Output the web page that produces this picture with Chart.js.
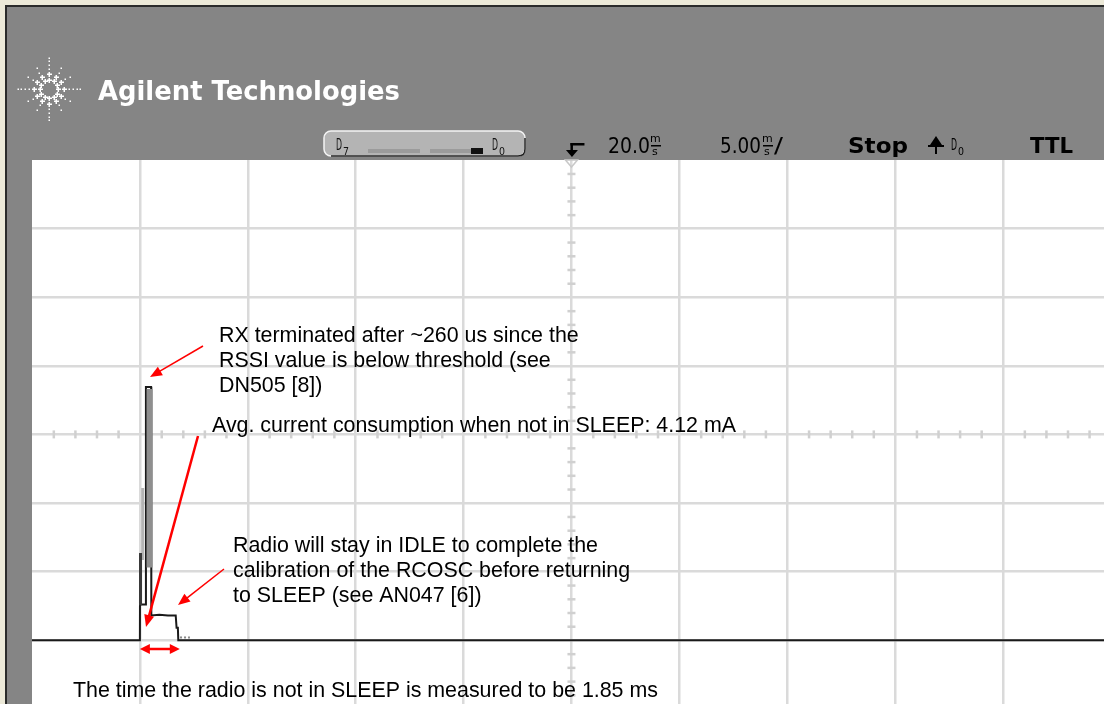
<!DOCTYPE html>
<html>
<head>
<meta charset="utf-8">
<script src="https://cdn.jsdelivr.net/npm/chart.js@4.4.1/dist/chart.umd.min.js"></script>
<style>
  html, body { margin: 0; padding: 0; background: #858585; overflow: hidden; }
  #wrap { width: 1104px; height: 704px; }
</style>
</head>
<body>
<div id="wrap"><canvas id="scope" width="1104" height="704"></canvas></div>
<script>
// time axis in ms (5.00 ms/div, 20.0 ms at centre), level in divisions above the trace baseline
const divTimes = [0, 5, 10, 15, 20, 25, 30, 35, 40];
const divLevels = [0, 1, 2, 3, 4, 5, 6];

// main trace
const traceTime  = [-5, 0.00, 0.01, 0.04, 0.27, 0.28, 0.52, 0.53, 0.90, 1.30, 1.66, 1.70, 1.76, 1.78, 44.7];
const traceLevel = [ 0, 0.00, 1.25, 0.52, 0.52, 3.69, 3.69, 0.36, 0.37, 0.36, 0.36, 0.18, 0.18, 0.00, 0];

// persistence / envelope bits of the scope display
const spikeBarTime = [0.45, 0.45];
const spikeBarLevel = [3.66, 1.06];
const riseBandTime = [0.03, 0.03];
const riseBandLevel = [1.27, 0.51];
const riseGhostTime = [0.13, 0.13];
const riseGhostLevel = [2.22, 1.17];
const tailTime = [1.86, 2.32];
const tailLevel = [0.04, 0.04];

// measured "not in SLEEP" window, ms
const awakeWindow = [0, 1.85];

const notes = [
    { lines: ['RX terminated after ~260 us since the', 'RSSI value is below threshold (see', 'DN505 [8])'], x: 219, y: 342 },
    { lines: ['Avg. current consumption when not in SLEEP: 4.12 mA'], x: 212, y: 432 },
    { lines: ['Radio will stay in IDLE to complete the', 'calibration of the RCOSC before returning', 'to SLEEP (see AN047 [6])'], x: 233, y: 552 },
    { lines: ['The time the radio is not in SLEEP is measured to be 1.85 ms'], x: 73, y: 697 }
];
const arrows = [
    { from: [203, 346], to: [150, 377], w: 1.5 },
    { from: [198, 436], to: [146, 627], w: 2.5 },
    { from: [224, 569], to: [178, 605], w: 1.5 }
];

function pts(xs, ys) {
    return xs.map((x, i) => ({ x: x, y: ys[i] }));
}

function seg(xs, ys, color, width, order) {
    return {
        data: pts(xs, ys),
        borderColor: color,
        borderWidth: width,
        pointRadius: 0,
        tension: 0,
        borderCapStyle: 'butt',
        order: order
    };
}

function fitText(ctx, text, x, y, w, font) {
    ctx.save();
    ctx.font = font;
    let m = ctx.measureText(text).width;
    ctx.translate(x, y);
    ctx.scale(w / m, 1);
    ctx.fillText(text, 0, 0);
    ctx.restore();
}

function arrowHead(ctx, x1, y1, x2, y2, len, half) {
    let a = Math.atan2(y2 - y1, x2 - x1);
    ctx.beginPath();
    ctx.moveTo(x2, y2);
    ctx.lineTo(x2 - len * Math.cos(a) + half * Math.sin(a), y2 - len * Math.sin(a) - half * Math.cos(a));
    ctx.lineTo(x2 - len * Math.cos(a) - half * Math.sin(a), y2 - len * Math.sin(a) + half * Math.cos(a));
    ctx.closePath();
    ctx.fill();
}

function arrowLine(ctx, x1, y1, x2, y2, w) {
    let a = Math.atan2(y2 - y1, x2 - x1);
    ctx.lineWidth = w;
    ctx.beginPath();
    ctx.moveTo(x1, y1);
    ctx.lineTo(x2 - 10 * Math.cos(a), y2 - 10 * Math.sin(a));
    ctx.stroke();
    arrowHead(ctx, x1, y1, x2, y2, 12, 5);
}

function stackedUnit(ctx, x) {
    ctx.save();
    ctx.fillStyle = '#000';
    ctx.font = '11px "DejaVu Sans"';
    ctx.fillText('m', x, 142);
    ctx.fillRect(x + 1, 145, 10, 1.5);
    ctx.fillText('s', x + 2, 155);
    ctx.restore();
}

function drawLogo(ctx, cx, cy) {
    ctx.save();
    ctx.fillStyle = '#fff';
    for (let k = 0; k < 12; k++) {
        let a = k * Math.PI / 6;
        let long = (k % 3 == 0);
        let radii = long ? [9, 15, 20, 24, 28, 31] : [9, 14, 19, 24];
        radii.forEach((r, i) => {
            let px = Math.round(cx + r * Math.cos(a)), py = Math.round(cy + r * Math.sin(a));
            if (i < 2) {
                ctx.fillRect(px - 2, py - 0.5, 5, 1.5);
                ctx.fillRect(px - 0.5, py - 2, 1.5, 5);
            } else {
                ctx.fillRect(px - 0.5, py - 0.5, 1.5, 1.5);
            }
        });
    }
    ctx.restore();
}

const scopeFrame = {
    id: 'scopeFrame',
    beforeDraw(chart) {
        const ctx = chart.ctx, a = chart.chartArea;
        ctx.save();
        ctx.fillStyle = '#858585';
        ctx.fillRect(0, 0, chart.width, chart.height);
        ctx.fillStyle = '#ece9d8';
        ctx.fillRect(0, 0, chart.width, 5);
        ctx.fillRect(0, 0, 5, chart.height);
        ctx.fillStyle = '#2a2a2a';
        ctx.fillRect(5, 5, chart.width, 2);
        ctx.fillRect(5, 5, 2, chart.height);
        ctx.fillStyle = '#ffffff';
        ctx.fillRect(a.left, a.top, a.right - a.left, a.bottom - a.top);

        // brand
        drawLogo(ctx, 49, 89);
        ctx.fillStyle = '#ffffff';
        fitText(ctx, 'Agilent Technologies', 98, 100, 302, 'bold 26px "DejaVu Sans"');

        // digital channel bar
        ctx.beginPath();
        ctx.roundRect(324, 131, 201, 25, 7);
        ctx.fillStyle = '#b4b4b4';
        ctx.fill();
        ctx.lineWidth = 1.5;
        ctx.strokeStyle = '#f4f4f4';
        ctx.stroke();
        ctx.strokeStyle = '#222';
        ctx.beginPath();
        ctx.moveTo(331, 156);
        ctx.lineTo(518, 156);
        ctx.quadraticCurveTo(525, 156, 525, 149);
        ctx.lineTo(525, 138);
        ctx.stroke();
        ctx.fillStyle = '#9b9b9b';
        ctx.fillRect(368, 149, 52, 4);
        ctx.fillRect(430, 149, 41, 4);
        ctx.fillStyle = '#111';
        ctx.fillRect(471, 148, 12, 6);
        fitText(ctx, 'D', 336, 150, 6, '15px "DejaVu Sans"');
        fitText(ctx, '7', 343, 155, 6, '11px "DejaVu Sans"');
        fitText(ctx, 'D', 492, 150, 6, '15px "DejaVu Sans"');
        fitText(ctx, '0', 499, 155, 6, '11px "DejaVu Sans"');

        // timebase / trigger status
        ctx.fillStyle = '#000';
        fitText(ctx, '20.0', 608, 153, 42, '22px "DejaVu Sans"');
        stackedUnit(ctx, 650);
        fitText(ctx, '5.00', 720, 153, 41, '22px "DejaVu Sans"');
        stackedUnit(ctx, 762);
        fitText(ctx, '/', 774, 153, 9, '22px "DejaVu Sans"');
        fitText(ctx, 'Stop', 848, 153, 60, 'bold 22px "DejaVu Sans"');
        ctx.beginPath();
        ctx.moveTo(936, 136);
        ctx.lineTo(930, 145);
        ctx.lineTo(942, 145);
        ctx.closePath();
        ctx.fill();
        ctx.fillRect(928, 145, 16, 2);
        ctx.fillRect(935, 145, 2, 9);
        fitText(ctx, 'D', 951, 150, 6, '15px "DejaVu Sans"');
        fitText(ctx, '0', 958, 155, 6, '11px "DejaVu Sans"');
        fitText(ctx, 'TTL', 1030, 153, 43, 'bold 22px "DejaVu Sans"');

        // trigger position marker
        const xc = chart.scales.x.getPixelForValue(20);
        ctx.fillRect(xc - 1, 143, 14, 2.5);
        ctx.fillRect(xc - 1, 143, 2.5, 8);
        ctx.beginPath();
        ctx.moveTo(xc - 5.5, 150);
        ctx.lineTo(xc + 6.5, 150);
        ctx.lineTo(xc + 0.5, 157);
        ctx.closePath();
        ctx.fill();
        ctx.restore();
    },
    beforeDatasetsDraw(chart) {
        const ctx = chart.ctx, x = chart.scales.x, y = chart.scales.y;
        const xc = x.getPixelForValue(20), yc = y.getPixelForValue(3);
        ctx.save();
        ctx.fillStyle = '#d0d0d0';
        for (let t = -5; t <= 45; t += 1) {
            if (t % 5 == 0) continue;
            let px = x.getPixelForValue(t);
            ctx.fillRect(px - 1, yc - 4, 2.5, 8);
        }
        for (let k = -4; k <= 35; k++) {
            if (k % 5 == 0) continue;
            let py = y.getPixelForValue(k / 5);
            ctx.fillRect(xc - 4, py - 1, 8, 2.5);
        }
        // hollow trigger level triangle just under the header
        ctx.strokeStyle = '#c8c8c8';
        ctx.lineWidth = 1.5;
        ctx.beginPath();
        ctx.moveTo(xc - 6, 160);
        ctx.lineTo(xc + 6, 160);
        ctx.lineTo(xc, 167);
        ctx.closePath();
        ctx.stroke();
        ctx.restore();
    }
};

const scopeNotes = {
    id: 'scopeNotes',
    afterDraw(chart) {
        const ctx = chart.ctx, x = chart.scales.x;
        ctx.save();
        ctx.fillStyle = '#000';
        ctx.font = '21.4px "Liberation Sans", Arial, sans-serif';
        notes.forEach(n => {
            n.lines.forEach((line, i) => ctx.fillText(line, n.x, n.y + i * 25));
        });
        ctx.strokeStyle = '#ff0000';
        ctx.fillStyle = '#ff0000';
        arrows.forEach(a => arrowLine(ctx, a.from[0], a.from[1], a.to[0], a.to[1], a.w));
        const x0 = x.getPixelForValue(awakeWindow[0]), x1 = x.getPixelForValue(awakeWindow[1]);
        const ym = 649;
        ctx.lineWidth = 2.5;
        ctx.beginPath();
        ctx.moveTo(x0 + 8, ym);
        ctx.lineTo(x1 - 8, ym);
        ctx.stroke();
        arrowHead(ctx, x1, ym, x0, ym, 10, 5);
        arrowHead(ctx, x0, ym, x1, ym, 10, 5);
        ctx.restore();
    }
};

const gridOpts = { color: '#dadada', lineWidth: 2.5, drawTicks: false };

new Chart(document.getElementById('scope').getContext('2d'), {
    type: 'line',
    data: {
        datasets: [
            seg(riseBandTime, riseBandLevel, '#3a3a3a', 3, 1),
            seg(spikeBarTime, spikeBarLevel, '#8f8f8f', 6, 1),
            seg(riseGhostTime, riseGhostLevel, '#b4b4b4', 3, 1),
            Object.assign(seg(tailTime, tailLevel, '#8a8a8a', 2, 1), { borderDash: [2, 2] }),
            seg(traceTime, traceLevel, '#1a1a1a', 2, 2)
        ]
    },
    options: {
        responsive: false,
        animation: false,
        events: [],
        layout: { padding: { left: 32, top: 160, right: 0, bottom: 0 } },
        plugins: { legend: { display: false }, tooltip: { enabled: false } },
        scales: {
            x: {
                type: 'linear', min: -5, max: 44.68,
                afterBuildTicks: ax => { ax.ticks = divTimes.map(v => ({ value: v })); },
                grid: gridOpts, border: { display: false }, ticks: { display: false }
            },
            y: {
                type: 'linear', min: -0.93, max: 7,
                afterBuildTicks: ax => { ax.ticks = divLevels.map(v => ({ value: v })); },
                grid: gridOpts, border: { display: false }, ticks: { display: false }
            }
        }
    },
    plugins: [scopeFrame, scopeNotes]
});
</script>
</body>
</html>
